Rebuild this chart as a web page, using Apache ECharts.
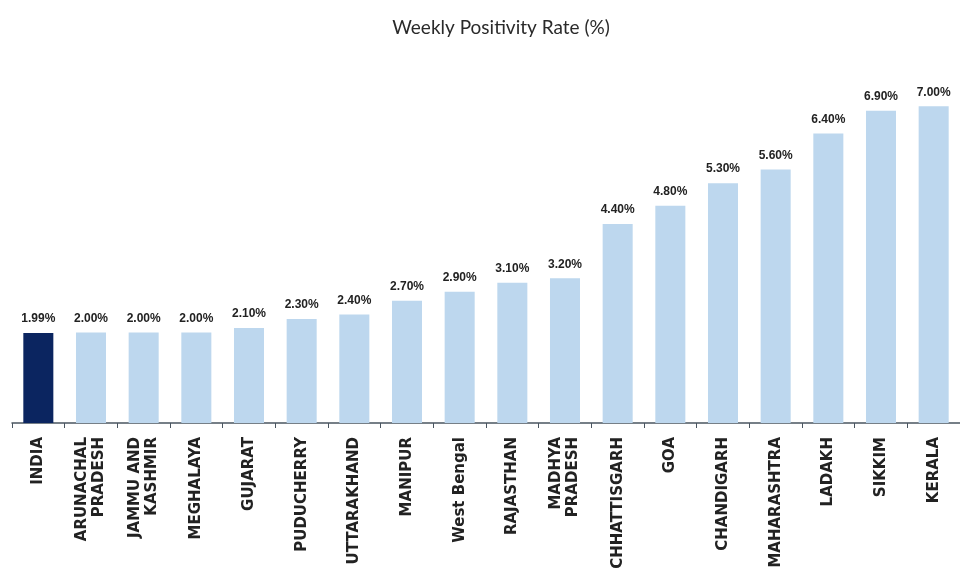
<!DOCTYPE html>
<html>
<head>
<meta charset="utf-8">
<script src="https://cdn.jsdelivr.net/npm/echarts@6/dist/echarts.min.js"></script>
<style>
    html, body { margin: 0; padding: 0; background: #fff; }
    #main { width: 960px; height: 574px; }
</style>
</head>
<body>
<div id="main"></div>
<script>
    // 各州周阳性率
    var states = ['INDIA', 'ARUNACHAL\nPRADESH', 'JAMMU AND\nKASHMIR', 'MEGHALAYA', 'GUJARAT',
        'PUDUCHERRY', 'UTTARAKHAND', 'MANIPUR', 'West Bengal', 'RAJASTHAN', 'MADHYA\nPRADESH',
        'CHHATTISGARH', 'GOA', 'CHANDIGARH', 'MAHARASHTRA', 'LADAKH', 'SIKKIM', 'KERALA'];
    var rates = [1.99, 2.00, 2.00, 2.00, 2.10, 2.30, 2.40, 2.70, 2.90, 3.10, 3.20,
        4.40, 4.80, 5.30, 5.60, 6.40, 6.90, 7.00];

    var myChart = echarts.init(document.getElementById('main'));

    var barData = [];
    for (var i = 0, len = rates.length; i < len; i++) {
        barData.push({
            value: rates[i],
            itemStyle: { color: i === 0 ? '#0b2560' : '#bdd7ee' }
        });
    }

    myChart.setOption({
        animation: false,
        title: {
            text: 'Weekly Positivity Rate (%)',
            left: 496,
            textAlign: 'center',
            top: 13,
            textStyle: { fontFamily: 'Lato', fontSize: 19, fontWeight: 'normal', color: '#2a2a2a' }
        },
        grid: { left: 12, right: -5, top: 61, bottom: 151, containLabel: false },
        xAxis: {
            type: 'category',
            data: states,
            axisLine: { lineStyle: { color: '#4a5560', width: 1.5 } },
            axisTick: { show: true, length: 5, lineStyle: { color: '#4a5560' } },
            axisLabel: {
                rotate: 90,
                interval: 0,
                margin: 14,
                fontFamily: 'DejaVu Sans',
                fontWeight: 'bold',
                fontSize: 15,
                lineHeight: 17,
                align: 'right',
                color: '#222'
            }
        },
        yAxis: {
            type: 'value',
            min: 0,
            max: 8,
            show: false,
            splitLine: { show: false }
        },
        series: [{
            type: 'bar',
            data: barData,
            barWidth: '57%',
            label: {
                show: true,
                position: 'top',
                distance: 8,
                fontFamily: 'Liberation Sans',
                fontWeight: 'bold',
                fontSize: 12,
                color: '#222',
                formatter: function (p) { return p.value.toFixed(2) + '%'; }
            }
        }]
    });
</script>
</body>
</html>
